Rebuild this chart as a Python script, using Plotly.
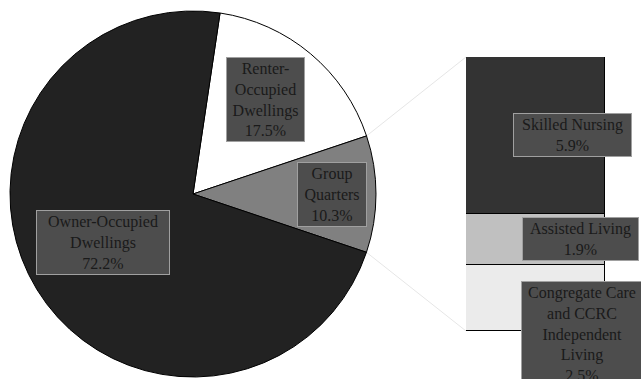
import math
import plotly.graph_objects as go

# Housing composition (share of population)
pie_labels = ["Renter-Occupied Dwellings", "Group Quarters", "Owner-Occupied Dwellings"]
pie_values = [17.5, 10.3, 72.2]
pie_colors = ["#ffffff", "#808080", "#222222"]
pie_text = ["Renter-<br>Occupied<br>Dwellings<br>17.5%", "Group<br>Quarters<br>10.3%",
            "Owner-Occupied<br>Dwellings<br>72.2%"]

# Breakdown of group quarters (bottom to top)
gq_labels = ["Congregate Care and CCRC Independent Living", "Assisted Living", "Skilled Nursing"]
gq_values = [2.5, 1.9, 5.9]
gq_colors = ["#ebebeb", "#c0c0c0", "#333333"]
gq_text = ["Congregate Care<br>and CCRC<br>Independent<br>Living<br>2.5%",
           "Assisted Living<br>1.9%", "Skilled Nursing<br>5.9%"]

W, H = 641, 379
FONT = "Liberation Serif"
ROTATION = 8.5  # degrees clockwise from 12 o'clock where the first slice starts

# pie placement in pixels
cx, cy, r = 193, 194, 183
pie_dom_x = [(cx - r) / W, (cx + r) / W]
pie_dom_y = [(H - (cy + r)) / H, (H - (cy - r)) / H]

# bar placement in pixels
bar_left, bar_right, bar_top, bar_bottom = 466, 605, 57, 331

fig = go.Figure()
fig.add_trace(go.Pie(
    labels=pie_labels, values=pie_values, sort=False, direction="clockwise",
    rotation=ROTATION, textinfo="none", hoverinfo="label+percent",
    marker=dict(colors=pie_colors, line=dict(color="#000000", width=1)),
    domain=dict(x=pie_dom_x, y=pie_dom_y), showlegend=False,
))

for name, val, col in zip(gq_labels, gq_values, gq_colors):
    fig.add_trace(go.Bar(
        x=[0], y=[val], name=name, width=1, marker=dict(color=col, line=dict(color="#000000", width=1)),
        showlegend=False, xaxis="x", yaxis="y",
    ))

total_gq = sum(gq_values)
fig.update_layout(
    width=W, height=H, margin=dict(l=0, r=0, t=0, b=0),
    paper_bgcolor="#ffffff", plot_bgcolor="rgba(0,0,0,0)",
    barmode="stack", bargap=0,
    xaxis=dict(domain=[bar_left / W, bar_right / W], range=[-0.5, 0.5], visible=False, fixedrange=True),
    yaxis=dict(domain=[(H - bar_bottom) / H, (H - bar_top) / H], range=[0, total_gq], visible=False,
               fixedrange=True),
    font=dict(family=FONT),
)

# connector lines from the group-quarters slice edges to the bar corners
total = sum(pie_values)
start = ROTATION + 360 * pie_values[0] / total
end = start + 360 * pie_values[1] / total


def edge(angle_deg):
    a = math.radians(angle_deg)
    return cx + r * math.sin(a), cy - r * math.cos(a)


for ang, by in ((start, bar_top), (end, bar_bottom)):
    px, py = edge(ang)
    fig.add_shape(type="line", xref="paper", yref="paper",
                  x0=px / W, y0=(H - py) / H, x1=bar_left / W, y1=(H - by) / H,
                  line=dict(color="#e6e6e6", width=1), layer="below")

box = dict(bgcolor="#4d4d4d", bordercolor="#a0a0a0", borderwidth=1, borderpad=2,
           font=dict(family=FONT, size=16, color="#1a1a1a"), showarrow=False,
           xanchor="center", yanchor="middle", align="center")

# pie labels: pixel centre and text-box width
pie_label_pos = [(265, 100, 73), (332, 194, 64), (103, 242, 128)]
for txt, (lx, ly, bw) in zip(pie_text, pie_label_pos):
    fig.add_annotation(text=txt, x=lx / W, y=(H - ly) / H, xref="paper", yref="paper", width=bw, **box)

# bar labels
cum = 0
bar_label_x = [582, 580, 572]
bar_label_w = [116, 111, 113]
bar_label_y = [334, None, None]
for txt, val, lx, bw, ly in zip(gq_text, gq_values, bar_label_x, bar_label_w, bar_label_y):
    mid = cum + val / 2
    cum += val
    if ly is None:
        fig.add_annotation(text=txt, x=lx / W, xref="paper", y=mid, yref="y", width=bw, **box)
    else:
        fig.add_annotation(text=txt, x=lx / W, xref="paper", y=(H - ly) / H, yref="paper", width=bw, **box)

fig.write_html("out.html")
